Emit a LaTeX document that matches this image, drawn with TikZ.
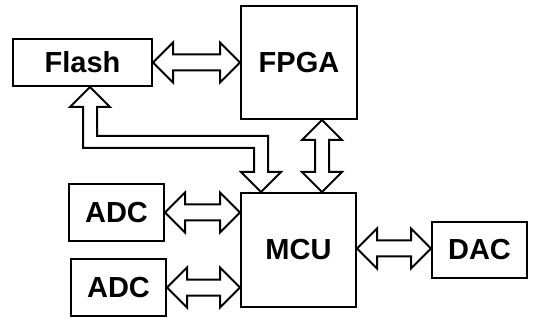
\documentclass[tikz,border=0pt]{standalone}
\usepackage{fontspec}
\setmainfont{Liberation Sans}
\usetikzlibrary{calc}
\def\hl{20pt}
\def\hw{20pt}
\def\sw{8pt}
\tikzset{
  blk/.style={draw=black, fill=white, line width=2pt, line join=miter},
  box/.style={draw=black, line width=2pt, inner sep=0pt, font=\fontsize{29}{35}\selectfont\bfseries}
}
\newcommand\hdarrow[2]{%
  \draw[blk] let \p1=#1, \p2=#2 in
  (\x1,\y1) -- (\x1+\hl,\y1+\hw) -- (\x1+\hl,\y1+\sw) -- (\x2-\hl,\y1+\sw) -- (\x2-\hl,\y1+\hw) -- (\x2,\y1)
  -- (\x2-\hl,\y1-\hw) -- (\x2-\hl,\y1-\sw) -- (\x1+\hl,\y1-\sw) -- (\x1+\hl,\y1-\hw) -- cycle;}
\newcommand\vdarrow[2]{%
  \draw[blk] let \p1=#1, \p2=#2 in
  (\x1,\y1) -- (\x1+\hw,\y1-\hl) -- (\x1+7pt,\y1-\hl) -- (\x1+7pt,\y2+\hl) -- (\x1+\hw,\y2+\hl) -- (\x1,\y2)
  -- (\x1-\hw,\y2+\hl) -- (\x1-7pt,\y2+\hl) -- (\x1-7pt,\y1-\hl) -- (\x1-\hw,\y1-\hl) -- cycle;}
\begin{document}
\begin{tikzpicture}[x=1pt,y=-1pt]
\useasboundingbox (0,0) rectangle (535,320);
\node[box, minimum width=139pt, minimum height=47pt] (flash) at (82.5,62.5) {Flash};
\node[box, minimum width=116pt, minimum height=113pt] (fpga) at (299,62.5) {FPGA};
\node[box, minimum width=115pt, minimum height=114pt] (mcu) at (298.5,250) {MCU};
\node[box, minimum width=95pt, minimum height=56pt] (dac) at (479.5,250) {DAC};
\node[box, minimum width=95pt, minimum height=57pt] (adc1) at (116.5,212.5) {ADC};
\node[box, minimum width=95pt, minimum height=57pt] (adc2) at (118.5,287.5) {ADC};
% connectors
\hdarrow{(flash.east)}{(fpga.west)}
\hdarrow{(adc1.east)}{(mcu.west)}
\hdarrow{(adc2.east)}{(mcu.west)}
\hdarrow{([yshift=1.5pt]dac.west -| mcu.east)}{(dac.west)}
\vdarrow{([xshift=23pt]fpga.south)}{(mcu.north)}
\coordinate (fa) at ([xshift=7.5pt]flash.south);
\coordinate (ma) at ([xshift=-37.5pt]mcu.north);
\coordinate (bend) at (0,142);
\draw[blk] let \p1=(fa), \p2=(ma), \p3=(bend) in
  (\x1,\y1) -- (\x1+\hw,\y1-\hl) -- (\x1+7pt,\y1-\hl) -- (\x1+7pt,\y3+6pt) -- (\x2+7pt,\y3+6pt)
  -- (\x2+7pt,\y2+\hl) -- (\x2+\hw,\y2+\hl) -- (\x2,\y2) -- (\x2-\hw,\y2+\hl) -- (\x2-7pt,\y2+\hl)
  -- (\x2-7pt,\y3-6pt) -- (\x1-7pt,\y3-6pt) -- (\x1-7pt,\y1-\hl) -- (\x1-\hw,\y1-\hl) -- cycle;
\end{tikzpicture}
\end{document}
